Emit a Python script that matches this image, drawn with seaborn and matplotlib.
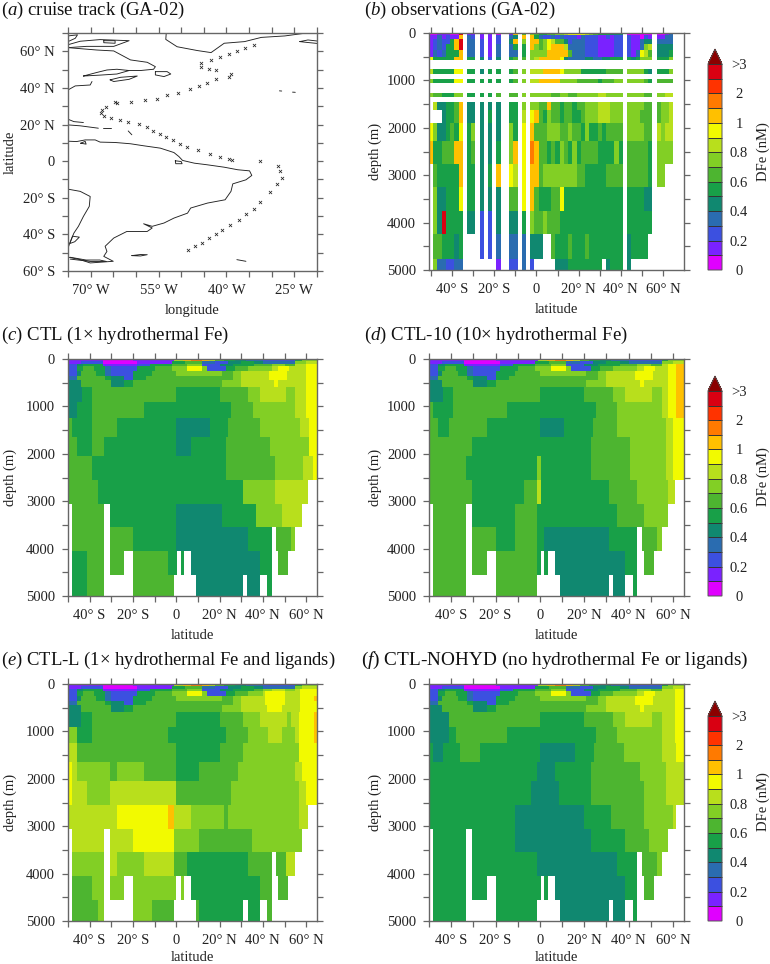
import numpy as np
import matplotlib
matplotlib.use("Agg")
import matplotlib.pyplot as plt
from matplotlib.colors import ListedColormap, BoundaryNorm
from matplotlib.cm import ScalarMappable
import seaborn as sns

NA = np.nan
W, H = 770, 964

# ---------------- colour classes
LEVELS = [0, .1, .2, .3, .4, .5, .6, .7, .8, .9, 1, 1.5, 2, 2.5, 3]
COLORS = ["#E000FF", "#7A22FF", "#3C50E0", "#2A6CB0", "#108870", "#18A048", "#4DB530",
          "#82CF25", "#B8DF1C", "#F2FA00", "#FFC000", "#FF7A00", "#FF3300", "#D90012"]
OVER = "#8B0000"
CLASS_VALUE = dict(zip("ABCDEFGHIJKLMN", [.05, .15, .25, .35, .45, .55, .65, .75, .85, .95, 1.25, 1.75, 2.25, 2.75]))
CBAR_TICKS = [0, .2, .4, .6, .8, 1, 2, 3]
CBAR_LABELS = ["0", "0.2", "0.4", "0.6", "0.8", "1", "2", ">3"]

# ---------------- panel (a): cruise track
TRACK_LON = [-48.5, -47, -45.4, -43.8, -42.3, -40.9, -39.2, -37.2, -35.6, -34, -32.5, -30.3, -28.9, -27.7, -28.2, -28.7,
             -32.6, -38.8, -39.4, -41.4, -43.6, -46.3, -48.7, -50.3, -51.9, -53.4, -54.7, -56.2, -57.6, -59.4, -61.8,
             -63.6, -65.5, -67.1, -67.7, -67.5, -66.5, -64.6, -64.2, -61.1, -58, -55.4, -53.2, -50.6, -48, -46, -44.3,
             -42.3, -39.4, -39.1, -42.3, -43.9, -45.6, -45.6, -43.4, -41.4, -39.4, -37.7, -35.8, -34]
TRACK_LAT = [-48.5, -46.5, -44.5, -42.2, -39.8, -37.6, -34.9, -32, -28.9, -26, -22.4, -16.9, -12.7, -9.1, -5.6, -2.5,
             0, .7, 1.1, 2.5, 4, 6, 7.8, 9.5, 11.5, 13.1, 14.7, 16.7, 18.5, 20.4, 21.6, 22.4, 23.3, 24.5, 26.2, 28,
             29.5, 32.2, 31.5, 32.4, 33.3, 34.2, 36, 37.3, 39.3, 41.3, 42.9, 44.7, 46.2, 47.6, 49.6, 50.5, 51.6, 53.8,
             55.5, 56.9, 58.4, 60, 62, 63.6]
S_AMERICA = [(-75, 10.9), (-73.1, 10.7), (-71.2, 11.6), (-69, 11.6), (-67.9, 10.4), (-64.6, 10.2), (-61.2, 9.5), (-58.3, 8.4),
             (-54.6, 7.1), (-51.6, 4.7), (-50.5, 2.5), (-49.7, .4), (-47.1, -1.1), (-44.2, -2), (-40.5, -3.3), (-37.5, -4.7),
             (-34.9, -5.3), (-34.4, -7.8), (-35.7, -10.2), (-38.6, -12.4), (-39, -16.5), (-40.3, -21.1), (-44.2, -22.9),
             (-47.9, -25.6), (-48.6, -28.4), (-51.6, -31.1), (-53.8, -33.8), (-56.4, -35.6), (-58.3, -34.2), (-56.4, -36.5),
             (-57.5, -38.4), (-62, -38.4), (-64.9, -42), (-66.8, -46.5), (-66.4, -49.3), (-67.1, -52), (-65, -54.7),
             (-70.1, -55.6), (-72.3, -53.8), (-75, -52.4)]
S_AMERICA_WEST = [(-75, -15.3), (-72.3, -16.5), (-70.1, -19.3), (-70.3, -24.7), (-71.6, -30.2), (-72.7, -35.6), (-73.7, -39.3),
                  (-74.6, -44.7), (-75, -47.5)]
TIERRA = [(-74.5, -52.5), (-71, -54), (-68, -54), (-66.5, -54.8), (-70, -54.8), (-74.5, -53.5)]
CHILOE = [(-74, -41), (-72.5, -41.5), (-73.5, -44), (-74.6, -45), (-74, -41)]
DELTA = [(-51.3, .2), (-50, -.2), (-49.8, -1.4), (-51.2, -1.4), (-51.3, .2)]
MARACAIBO = [(-72.2, 9.8), (-71.2, 10.8), (-71, 9.3), (-72.2, 9.8)]
US_COAST = [(-75, 38.9), (-73.4, 41.1), (-70.1, 41.6), (-69.7, 43.5)]
CANADA = [(-75, 62), (-68.6, 60.7), (-64.9, 60.2), (-61.2, 55.3), (-57.5, 54), (-55.7, 51.6), (-56.1, 50.2), (-59, 49.5), (-61.5, 49.5)]
GULF = [(-71.6, 46.5), (-68.7, 48.4), (-66.4, 49.8), (-64.2, 50.2), (-61.5, 49.5), (-64.2, 47.6), (-67.9, 47), (-71.6, 46.5)]
SCOTIA = [(-65.7, 44.4), (-63.4, 45.8), (-59.7, 46.5), (-61.5, 44.7), (-64.9, 43.5), (-65.7, 44.4)]
NEWFOUNDLAND = [(-55.7, 48.9), (-53.1, 48.9), (-52.3, 47.6), (-53.8, 46.2), (-55.7, 47.1), (-55.7, 48.9)]
BAFFIN = [(-75, 63.6), (-72.3, 65.5), (-67.9, 66.4), (-61.5, 65.8), (-64.9, 62.7), (-70.9, 62.7), (-75, 62)]
BAFFIN_N = [(-75, 68.4), (-72.9, 69), (-73.4, 67.1), (-75, 65.3)]
BAFFIN_I = [(-67.1, 65.8), (-64.6, 65.8), (-64.6, 64.4), (-67.1, 64.7), (-67.1, 65.8)]
GREENLAND = [(-53.3, 70), (-53.4, 66.5), (-50.9, 62.5), (-46.4, 60.4), (-43.4, 59.3), (-40.5, 64.4), (-36, 65.3), (-32.3, 67.6),
             (-27.1, 68.4), (-22.3, 70)]
ICELAND = [(-23.8, 65.3), (-22, 66.2), (-19.5, 65.5), (-19.5, 64.2), (-22, 64.8), (-23.8, 65.3)]
CUBA = [(-75, 19.8), (-72.3, 19.3), (-68.3, 18)]
BAHAMAS = [(-75, 22.9), (-73.7, 21.6), (-71.6, 21.1)]
PUERTO_RICO = [(-67.3, 18.2), (-65.5, 18.2)]
ANTILLES = [(-61.7, 16.5), (-60.9, 14.4)]
AZORES_W = [(-28.3, 38.4), (-27.8, 38.3)]
AZORES_E = [(-25.4, 37.7), (-24.8, 37.6)]
FALKLANDS = [(-60.9, -51.6), (-59, -51), (-57.5, -51.1), (-59, -51.8), (-60.9, -51.6)]
S_GEORGIA = [(-37.7, -53.8), (-35.7, -54.7)]
COASTS = [S_AMERICA, S_AMERICA_WEST, TIERRA, CHILOE, DELTA, MARACAIBO, US_COAST, CANADA, GULF, SCOTIA, NEWFOUNDLAND, BAFFIN,
          BAFFIN_N, BAFFIN_I, GREENLAND, ICELAND, CUBA, BAHAMAS, PUERTO_RICO, ANTILLES, AZORES_W, AZORES_E, FALKLANDS, S_GEORGIA]
LON_TICKS = [-75, -70, -65, -60, -55, -50, -45, -40, -35, -30, -25, -20]
LON_LABELS = ["", "70° W", "", "", "55° W", "", "", "40° W", "", "", "25° W", ""]
MAP_LAT_TICKS = [-60, -50, -40, -30, -20, -10, 0, 10, 20, 30, 40, 50, 60, 70]
MAP_LAT_LABELS = ["60° S", "", "40° S", "", "20° S", "", "0", "", "20° N", "", "40° N", "", "60° N", ""]

# ---------------- shared section axes
LAT_TICKS = [-50, -40, -30, -20, -10, 0, 10, 20, 30, 40, 50, 60]
LAT_LABELS = ["", "40° S", "", "20° S", "", "0", "", "20° N", "", "40° N", "", "60° N"]
DEPTH_TICKS = [0, 500, 1000, 1500, 2000, 2500, 3000, 3500, 4000, 4500, 5000]
DEPTH_LABELS = ["0", "", "1000", "", "2000", "", "3000", "", "4000", "", "5000"]

# ---------------- panel (b): observations, one letter per 2 degree column from 51S
OBS_EDGES = [(0, 50), (50, 120), (130, 230), (230, 350), (350, 500), (500, 570), (760, 860), (960, 1050), (1270, 1360),
             (1460, 1630), (1630, 1900), (1900, 2270), (2270, 2760), (2760, 3250), (3250, 3760), (3760, 4250), (4250, 4760), (4760, 5000)]
OBS_ROWS = [
    "AABBBAAN _ BB _ B _ B _ A __ BK _ G _ HGFFGGHHIJJJJIHGFFFEEE _ AAAAAA _ AABD",
    "BBDBCBBK _ DC _ B _ B _ C __ DE _ K _ KFDCCDCDCCCBDCCCBBCBCC _ CBBACB _ BBDD",
    "BCDCCFKN _ DD _ C _ B _ C __ EK _ H _ KKGHJIGGECDDDCCCBBBBCC _ CBBDEE _ DDDD",
    "BCDCFFKN _ DD _ C _ B _ D __ DF _ F _ KHGHJKKKIDDDDCCCBBBBCC _ CBBDHI _ EEEE",
    "BDCDFFFK _ DD _ C _ B _ D __ DD _ F _ HHHHKKKKKGDDDCCCBBBBCC _ CBDJIG _ EEEF",
    "JFFFFFKK _ FF _ E _ C _ E __ FG _ G _ HIKKKKKJEDDDDEEDDEEFFF _ FEFHHH _ FFFH",
    "IFFFFFJJ _ FF _ E _ F _ F __ FG _ H _ IIIKKKKJHHHHFFFFFFGGGG _ HHHHFE _ FFFH",
    "HFFFFFJJ _ FF _ F _ F _ F __ FG _ H _ IIKKKKKHHHHGGGGGFGGGHH _ HHHHGF _ GGGG",
    "HGGFFFHH _ FF _ F _ F _ G __ GG _ H _ HHHHHGGHHGGHHHHHIIHHHH _ HHHHGG _ HHII",
    "_IEEFFGK _ EE _ E _ E _ E __ FF _ H _ HHGGKGGFGGFGGHHHIIIHHH _ HHHHGG _ GHHI",
    "___EFFGK _ EE _ E _ F _ E __ FF _ I _ JKGFHGGFGGFFGHHHIIIHHH _ HHHGGG _ GHHI",
    "JHEEFGFJ _ FH _ E _ E _ E __ HF _ J _ KGGGHHHGGHGGFHFFGFGGGG _ HHHHGG _ IHII",
    "KFFGGGKK _ FG _ E _ E _ F __ HK _ J _ LKGGFGFHGFHFGGGGFFFFHF _ GGGGGF _ HHHH",
    "_GFFFFFK _ FF _ E _ F _ K __ JI _ J _ KKGHHHHHHHHGGFFFFFGGGG _ GGGGGF _ HH__",
    "_HEEFFFJ _ FF _ E _ E _ E __ GG _ J _ KGFFFGGJFFFFFFFFFFFFFF _ FFFFEE _ ____",
    "_HENFFFF _ EE _ C _ C _ E __ EE _ F _ HGGHGGGFFFFFFFFFFFFFFF _ FFFFFF _ ____",
    "_GGFFFEF _ __ _ C _ C _ D __ DD _ D _ EEE__GFFFGFFFGFFFFFFFF _ EFFFF_ _ ____",
    "_HDDCCDD _ __ _ _ _ _ _ B __ CC _ D _ C_____EEEFFFFFFFF_EFFF _ E_____ _ ____",
]

# ---------------- model sections: (northern end of run in degrees, DFe in nM)
MODEL_EDGES = [0, 50, 100, 150, 250, 350, 450, 600, 900, 1250, 1650, 2050, 2550, 3050, 3550, 4050, 4550, 5000]
SURFACE_WEST = [
    [(-34, .15), (-20, .05), (-1, .15), (3, .85), (7, 1.25), (12, 1.75), (15, 1.25), (18, .85), (22, .65), (27, .55), (32, .45), (40, .35)],
    [(-44, .15), (-34, .25), (-18, .05), (-2, .15), (4, .55), (12, .65), (18, .35), (24, .25), (30, .45), (36, .55), (40, .45)],
    [(-46, .25), (-43, .45), (-34, .55), (-18, .15), (-12, .25), (-2, .55), (5, .65), (12, .75), (20, .25), (26, .45), (36, .55), (40, .65)],
    [(-46, .25), (-43, .55), (-38, .65), (-33, .55), (-30, .35), (-18, .25), (-10, .55), (-2, .65), (5, .75), (12, .95), (14, .75), (23, .25), (27, .55), (33, .65), (40, .75)],
    [(-46, .25), (-44, .45), (-37, .65), (-33, .55), (-30, .35), (-20, .25), (-11, .55), (0, .65), (21, .75), (26, .65), (30, .75), (40, .85)],
    [(-46, .35), (-33, .65), (-30, .55), (-24, .45), (-20, .25), (-14, .55), (26, .65), (30, .75), (40, .85)],
    [(-44, .45), (-30, .65), (-24, .45), (-20, .55), (21, .65), (30, .75), (40, .85)],
]
SURFACE_EAST = [
    [(55, .25)],
    [(55, .35)],
    [(44, .65), (50, .75), (55, .65)],
    [(44, .75), (47, .85), (52, .95), (55, .85)],
    [(43, .85), (51, .95), (55, .85)],
    [(43, .85), (51, .95), (55, .85)],
    [(45, .85), (47, .95), (55, .85)],
]
SURFACE_EAST_L = [
    [(55, .25)],
    [(55, .35)],
    [(44, .75), (50, .85), (55, .75)],
    [(41, .85), (50, .95), (55, .85)],
    [(41, .85), (50, .95), (55, .85)],
    [(41, .85), (50, .95), (55, .85)],
    [(42, .85), (49, .95), (55, .85)],
]
CTL_END = [[(58, .55), (65, .75)], [(60, .75), (65, .85)], [(60, .85), (65, .95)], [(60, .85), (65, .95)], [(60, .85), (65, .95)], [(60, .85), (65, .95)], [(60, .85), (65, .95)]]
CTL10_END = [[(58, .55), (65, .75)], [(60, .75), (65, .85)], [(58, .85), (61.5, .95), (65, 1.25)], [(58, .85), (61.5, .95), (65, 1.25)], [(58, .85), (61.5, .95), (65, 1.25)], [(58, .85), (61.5, .95), (65, 1.25)], [(58, .85), (61.5, .95), (65, 1.25)]]
CTLL_END = [[(58, .55), (65, .75)], [(58, .75), (65, .85)], [(57, .85), (65, .95)], [(57, .85), (65, .95)], [(57, .85), (63.5, .95), (65, 1.25)], [(57, .85), (65, .95)], [(57, .85), (65, .95)]]
NOHYD_END = [[(58, .55), (65, .75)], [(60, .75), (65, .85)], [(61, .85), (65, .95)], [(61, .85), (65, .95)], [(61, .85), (65, .95)], [(61, .85), (65, .95)], [(61, .85), (65, .95)]]

CTL_DEEP = [
    [(-43.5, .45), (-39, .55), (0, .65), (20, .55), (33, .65), (38.5, .75), (50.5, .85), (55, .75), (60, .85), (65, .95)],
    [(-46, .45), (-39, .55), (-15, .65), (25.5, .55), (35.5, .65), (55, .75), (60, .85), (65, .95)],
    [(-48, .65), (-39, .55), (-27.5, .65), (0, .55), (15.5, .45), (24, .55), (38.5, .65), (57, .75), (61.5, .85), (65, .95)],
    [(-46, .65), (-39, .55), (-33.5, .65), (0, .55), (7, .45), (23, .55), (43.5, .65), (61.5, .75), (65, .95)],
    [(-39, .65), (23, .55), (45.5, .65), (58.5, .75), (63, .85), (65, .95)],
    [(-36, .65), (31, .55), (45.5, .75), (61, .85), (65, NA)],
    [(-48, NA), (-33.5, .65), (-30.5, NA), (0, .55), (21, .45), (37, .55), (49, .75), (58, .85), (65, NA)],
    [(-48, NA), (-33.5, .65), (-30.5, NA), (-20, .65), (0, .55), (33, .45), (44, .55), (46, NA), (53, .65), (55, .75), (65, NA)],
    [(-48, NA), (-41, .55), (-33.5, .65), (-30.5, NA), (-24, .65), (-20, NA), (-4, .65), (.5, .55), (2, NA), (3.5, .55), (7, NA), (38.5, .45), (44, .55), (47, NA), (51.5, .65), (65, NA)],
    [(-48, NA), (-41, .55), (-33.5, .65), (-20, NA), (-1, .65), (9, NA), (31, .45), (32.5, NA), (38.5, .45), (42, NA), (44, .55), (65, NA)],
]
CTL10_DEEP = [
    [(-43.5, .45), (-39, .55), (0, .65), (20, .55), (33, .65), (38.5, .75), (50.5, .85), (55, .75), (58, .85), (61.5, .95), (65, 1.25)],
    [(-48, .65), (-39, .55), (-15, .65), (25.5, .55), (35, .65), (55, .75), (58, .85), (61.5, .95), (65, 1.25)],
    [(-46, .65), (-41, .55), (-24, .65), (0, .55), (11, .45), (24, .55), (35, .65), (57, .75), (60, .85), (65, .95)],
    [(-30.5, .65), (23, .55), (40.5, .65), (57, .75), (60, .85), (65, .95)],
    [(-33.5, .65), (-1.5, .55), (.5, .75), (23, .55), (40.5, .65), (57, .75), (60, .85), (65, .95)],
    [(-30.5, .65), (-7, .55), (-1.5, .65), (.5, .85), (31, .55), (44, .65), (58, .75), (61, .85), (65, NA)],
    [(-48, NA), (-33.5, .65), (-30.5, NA), (-11, .55), (-1.5, .65), (35, .55), (47, .65), (58, .75), (65, NA)],
    [(-48, NA), (-33.5, .65), (-30.5, NA), (-20, .65), (-11, .55), (-1.5, .65), (2, .55), (31, .45), (44, .55), (46, NA), (53, .65), (55, .75), (65, NA)],
    [(-48, NA), (-33.5, .65), (-30.5, NA), (-24, .65), (-20, NA), (-1.5, .65), (.5, .55), (2, NA), (3.5, .55), (7, NA), (38.5, .45), (44, .55), (47, NA), (51.5, .65), (65, NA)],
    [(-48, NA), (-33.5, .65), (-20, NA), (-1.5, .65), (9, NA), (31, .45), (33, NA), (38.5, .45), (42, NA), (44, .55), (65, NA)],
]
CTLL_DEEP = [
    [(-44, .45), (-39, .55), (0, .65), (20, .55), (31, .65), (38.5, .75), (51, .85), (53, .75), (56.5, .85), (63.5, .95), (65, 1.25)],
    [(-46, .75), (-39, .55), (-4, .65), (23, .55), (33, .65), (42.5, .75), (49, .85), (55, .75), (56.5, .85), (63.5, .95), (65, 1.25)],
    [(-46, .85), (0, .65), (20, .55), (31, .65), (56.5, .75), (65, .95)],
    [(-48, .95), (-46, .85), (-30.5, .75), (-27.5, .65), (-15, .75), (0, .65), (10.5, .55), (28.5, .65), (55, .75), (58, .85), (65, .95)],
    [(-48, .95), (-41, .85), (-30.5, .75), (0, .85), (7, .65), (25.5, .65), (56.5, .75), (60, .85), (65, .95)],
    [(-27.5, .85), (-4, .95), (-1, 1.25), (7, .85), (22, .75), (24, .65), (56.5, .75), (61, .85), (65, NA)],
    [(-48, NA), (-33.5, .85), (-30.5, NA), (-20, .85), (-1, .95), (10.5, .75), (35, .65), (58, .75), (65, NA)],
    [(-48, NA), (-33.5, .75), (-30.5, NA), (-27.5, .85), (-15, .75), (-1, .85), (5, .65), (33, .55), (44, .65), (46, NA), (50.5, .65), (55, .85), (65, NA)],
    [(-48, NA), (-39, .65), (-33.5, .75), (-30.5, NA), (-24, .75), (-20, NA), (0, .75), (2, NA), (3.5, .75), (7, NA), (38.5, .55), (44, .65), (47, NA), (51.5, .65), (65, NA)],
    [(-48, NA), (-36, .65), (-33.5, .75), (-20, NA), (-11, .75), (-1, .65), (9, NA), (10.5, .65), (31, .55), (33, NA), (38.5, .55), (42, NA), (44, .65), (65, NA)],
]
NOHYD_DEEP = [
    [(-41, .45), (0, .65), (20, .55), (33, .65), (38.5, .75), (50.5, .85), (55, .75), (61, .85), (65, .95)],
    [(-41, .45), (-38, .55), (-15, .65), (25.5, .55), (35, .65), (50, .75), (55, .75), (61, .85), (65, .95)],
    [(-48, .55), (-43.5, .45), (-36, .55), (-27, .65), (0, .55), (16, .45), (24.5, .55), (38, .65), (55, .75), (61.5, .85), (65, .95)],
    [(-1.5, .55), (7, .45), (23, .55), (45, .65), (57, .75), (65, .85)],
    [(-4, .55), (8.5, .45), (23, .55), (47, .65), (57, .75), (65, .85)],
    [(-11, .55), (20, .45), (32, .55), (47, .65), (60, .75), (61.5, .85), (65, NA)],
    [(-48, NA), (-33.5, .55), (-30.5, NA), (-11, .55), (23, .45), (38.5, .55), (49, .65), (58, .75), (65, NA)],
    [(-48, NA), (-33.5, .55), (-30.5, NA), (-1.5, .55), (35, .45), (44, .55), (46, NA), (53, .65), (55, .75), (65, NA)],
    [(-48, NA), (-33.5, .55), (-30.5, NA), (-24, .55), (-20, NA), (.5, .55), (2, NA), (3.5, .55), (7, NA), (38.5, .45), (44, .55), (47, NA), (51.5, .65), (65, NA)],
    [(-48, NA), (-33.5, .55), (-20, NA), (-1.5, .55), (9, NA), (31, .45), (33, NA), (38.5, .45), (42, NA), (44, .55), (65, NA)],
]

# ---------------- texts
TITLES = ["($\\mathit{a}$) cruise track (GA-02)", "($\\mathit{b}$) observations (GA-02)",
          "($\\mathit{c}$) CTL (1× hydrothermal Fe)", "($\\mathit{d}$) CTL-10 (10× hydrothermal Fe)",
          "($\\mathit{e}$) CTL-L (1× hydrothermal Fe and ligands)", "($\\mathit{f}$) CTL-NOHYD (no hydrothermal Fe or ligands)"]
TITLE_SIZES = [13.5, 13.5, 13.5, 13.5, 13.45, 13.9]

# ---------------- styling
sns.set_theme(style="white")
plt.rcParams["font.family"] = "Liberation Serif"
plt.rcParams["mathtext.fontset"] = "custom"
plt.rcParams["mathtext.rm"] = "Liberation Serif"
plt.rcParams["mathtext.it"] = "Liberation Serif:italic"
FRAME = "#666666"
TEXT = "#222222"

cmap = ListedColormap(COLORS)
cmap.set_over(OVER)
norm = BoundaryNorm(LEVELS, len(COLORS))

fig = plt.figure(figsize=(W / 100, H / 100), dpi=100)


def axes_px(x0, x1, y0, y1):
    return fig.add_axes([x0 / W, 1 - y1 / H, (x1 - x0) / W, (y1 - y0) / H])


def style_axes(ax, xt, xl, yt, yl, xlabel, ylabel, xlab_px, ylab_px):
    for s in ax.spines.values():
        s.set_visible(True)
        s.set_color(FRAME)
        s.set_linewidth(1.0)
    ax.set_xticks(xt, xl)
    ax.set_yticks(yt, yl)
    ax.tick_params(axis="both", which="major", direction="out", length=4.3, width=.9, color=FRAME, pad=5,
                   labelsize=10.5, labelcolor=TEXT, top=True, right=True, bottom=True, left=True, labelrotation=0)
    ax.set_xlabel(xlabel, fontsize=10.5, color=TEXT)
    ax.set_ylabel(ylabel, fontsize=10.5, color=TEXT)
    ax.xaxis.set_label_coords(.5, xlab_px)
    ax.yaxis.set_label_coords(ylab_px, .5)


def section(ax, grid, lat0, dlat, dz, xlabel_y, ylab_x):
    sns.heatmap(grid, ax=ax, cmap=cmap, norm=norm, cbar=False, xticklabels=False, yticklabels=False)
    style_axes(ax, [(v - lat0) / dlat for v in LAT_TICKS], LAT_LABELS, [d / dz for d in DEPTH_TICKS], DEPTH_LABELS,
               "latitude", "depth (m)", xlabel_y, ylab_x)


def model_grid(layers):
    dlat, dz = .5, 50
    lat = -50 + dlat * (np.arange(int(115 / dlat)) + .5)
    depth = dz * (np.arange(int(5000 / dz)) + .5)
    grid = np.full((depth.size, lat.size), np.nan)
    for i, runs in enumerate(layers):
        rows = (depth >= MODEL_EDGES[i]) & (depth < MODEL_EDGES[i + 1])
        start = -50
        for end, val in runs:
            cols = (lat >= start) & (lat < end)
            grid[np.ix_(rows, cols)] = val
            start = end
    return grid


def obs_grid():
    dlat, dz = 1, 10
    grid = np.full((int(5000 / dz), 121), np.nan)
    for (z0, z1), row in zip(OBS_EDGES, OBS_ROWS):
        cells = row.replace(" ", "")
        for k, c in enumerate(cells):
            if c in CLASS_VALUE:
                grid[int(z0 / dz):int(z1 / dz), 2 * k:2 * k + 2] = CLASS_VALUE[c]
    return grid


def colorbar(x0, x1, y0, y1, label_y):
    cax = axes_px(x0, x1, y0, y1)
    cb = fig.colorbar(ScalarMappable(norm=norm, cmap=cmap), cax=cax, extend="max", extendfrac=16 / 221,
                      spacing="uniform", drawedges=True)
    cb.set_ticks(CBAR_TICKS, labels=CBAR_LABELS)
    cb.minorticks_off()
    cb.ax.tick_params(length=0, pad=12.2, labelsize=10.5, labelcolor=TEXT)
    for t in cb.ax.get_yticklabels():
        t.set_ha("center")
    cb.dividers.set_color("#333333")
    cb.dividers.set_linewidth(.7)
    cb.outline.set_edgecolor("#555555")
    cb.outline.set_linewidth(.7)
    fig.text(763 / W, 1 - label_y / H, "DFe (nM)", rotation=90, ha="center", va="center", fontsize=10.5, color=TEXT)


# panel a
ax_a = axes_px(68, 317, 33, 271)
for coast in COASTS:
    arr = np.array(coast)
    ax_a.plot(arr[:, 0], arr[:, 1], color="#222222", lw=.65)
sns.scatterplot(x=TRACK_LON, y=TRACK_LAT, marker="x", s=5, color="#222222", linewidth=.55, ax=ax_a, legend=False)
ax_a.set_xlim(-75, -20)
ax_a.set_ylim(-60, 70)
style_axes(ax_a, LON_TICKS, LON_LABELS, MAP_LAT_TICKS, MAP_LAT_LABELS, "longitude", "latitude", -33 / 238, -51 / 249)

# panel b
ax_b = axes_px(429, 684, 33, 270)
section(ax_b, obs_grid(), -51, 1, 10, -33 / 237, -47 / 255)
colorbar(708, 722, 49, 270, 152)

# panels c-f
panels = [
    (axes_px(68, 317, 359, 596), CTL_DEEP, SURFACE_EAST, CTL_END, -33 / 237, -51 / 249),
    (axes_px(429, 684, 359, 596), CTL10_DEEP, SURFACE_EAST, CTL10_END, -33 / 237, -47 / 255),
    (axes_px(68, 317, 684, 921), CTLL_DEEP, SURFACE_EAST_L, CTLL_END, -30 / 237, -51 / 249),
    (axes_px(429, 684, 684, 921), NOHYD_DEEP, SURFACE_EAST, NOHYD_END, -30 / 237, -47 / 255),
]
for ax, deep, east, end, xl, yl in panels:
    layers = [w + e + t for w, e, t in zip(SURFACE_WEST, east, end)] + deep
    section(ax, model_grid(layers), -50, .5, 50, xl, yl)
colorbar(708, 722, 376, 596, 477)
colorbar(708, 722, 701, 921, 802)

# titles
TITLE_POS = [(1, 10), (364, 10), (1, 335), (364, 335), (1, 660), (361, 660)]
for (px, py), t, fs in zip(TITLE_POS, TITLES, TITLE_SIZES):
    fig.text(px / W, 1 - py / H, t, ha="left", va="center", fontsize=fs, color="#111111")

fig.savefig("out.png", dpi=100)
